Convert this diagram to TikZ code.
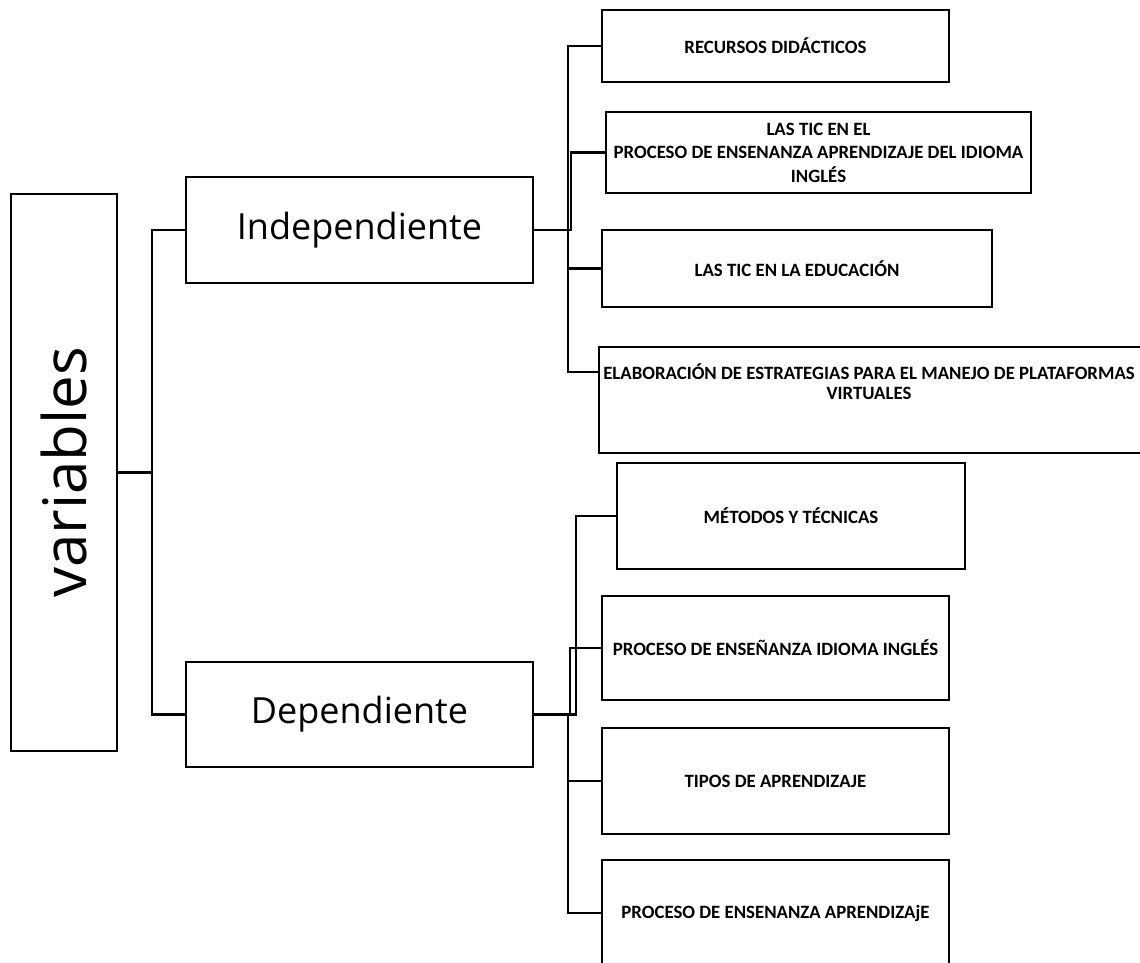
\documentclass[tikz,border=0pt]{standalone}
\usepackage{fontspec}
\setmainfont{Open Sans}
\newfontfamily\temafont{Carlito}
\usepackage{graphicx}

\begin{document}
\begin{tikzpicture}[x=1pt,y=-1pt,
    caja/.style={draw,line width=2.7pt,inner sep=2pt,align=center},
    tema/.style={caja,font=\temafont\bfseries\fontsize{18.8}{20}\selectfont},
    enlace/.style={line width=2.2pt}]
        \useasboundingbox (0,0) rectangle (1140,962);
        \node[caja,minimum width=106pt,minimum height=557pt] (var) at (64,472.5)
            {\rotatebox{90}{\fontsize{60}{60}\selectfont variables}};
        \node[caja,minimum width=347pt,minimum height=106pt,font=\fontsize{36}{40}\selectfont] (ind) at (359.5,230) {Independiente};
        \node[caja,minimum width=347pt,minimum height=105pt,font=\fontsize{36}{40}\selectfont] (dep) at (359.5,714.5) {Dependiente};
        \node[tema,minimum width=347pt,minimum height=72pt] (rec) at (775.5,46) {RECURSOS DIDÁCTICOS};
        \node[tema,minimum width=425pt,minimum height=81pt,font=\temafont\bfseries\fontsize{18.8}{23.5}\selectfont] (ticel) at (818.5,152.5)
            {LAS TIC EN EL\\PROCESO DE ENSENANZA APRENDIZAJE DEL IDIOMA\\INGLÉS};
        \node[tema,minimum width=390pt,minimum height=77pt] (ticedu) at (797,268.5) {LAS TIC EN LA EDUCACIÓN};
        \node[tema,minimum width=546pt,minimum height=106pt] (elab) at (872,400) {};
        \node[font=\temafont\bfseries\fontsize{18.8}{20}\selectfont,align=center] (elabtxt) at (869,381.5)
            {ELABORACIÓN DE ESTRATEGIAS PARA EL MANEJO DE PLATAFORMAS\\VIRTUALES};
        \node[tema,minimum width=348pt,minimum height=106pt] (met) at (791,516) {MÉTODOS Y TÉCNICAS};
        \node[tema,minimum width=347pt,minimum height=104pt] (idi) at (775.5,648) {PROCESO DE ENSEÑANZA IDIOMA INGLÉS};
        \node[tema,minimum width=347pt,minimum height=106pt] (tip) at (775.5,781) {TIPOS DE APRENDIZAJE};
        \node[tema,minimum width=347pt,minimum height=106pt] (apr) at (775.5,913) {PROCESO DE ENSENANZA APRENDIZAjE};
        \draw[enlace] (var.east) -- ++(34,0) |- (ind.west);
        \draw[enlace] (var.east) -- ++(34,0) |- (dep.west);
        \draw[enlace] (ind.east) -- ++(34,0) |- (rec.west);
        \draw[enlace] (ind.east) -- ++(37,0) |- (ticel.west);
        \draw[enlace] (ind.east) -- ++(34,0) |- (ticedu.west);
        \draw[enlace] (ind.east) -- ++(34,0) |- ([yshift=28pt]elab.west);
        \draw[enlace] (dep.east) -- ++(42,0) |- (met.west);
        \draw[enlace] (dep.east) -- ++(36,0) |- (idi.west);
        \draw[enlace] (dep.east) -- ++(34,0) |- (tip.west);
        \draw[enlace] (dep.east) -- ++(34,0) |- (apr.west);
    \end{tikzpicture}
\end{document}
